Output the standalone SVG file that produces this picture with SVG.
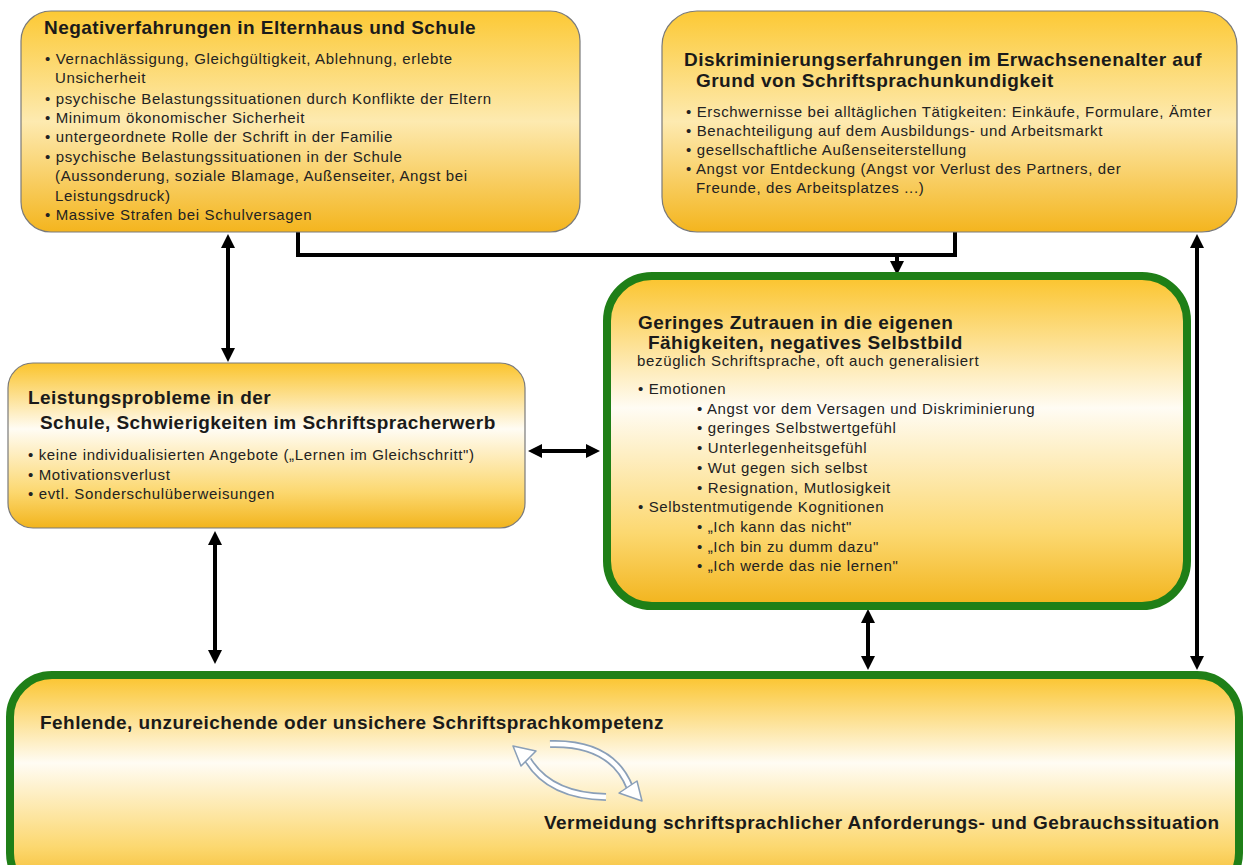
<svg xmlns="http://www.w3.org/2000/svg" width="1245" height="865" viewBox="0 0 1245 865">
  <defs>
    <style>
      .t { font-family: "Liberation Sans", Arial, sans-serif; font-weight: bold; font-size: 19px; fill: #1a1a1a; letter-spacing: 0.45px; }
      .b { font-family: "Liberation Sans", Arial, sans-serif; font-size: 15px; fill: #222; letter-spacing: 0.65px; }
      .box { stroke: #7a7a7a; stroke-width: 1.2; }
      .gbox { stroke: #1f7f17; stroke-width: 8; }
      .conn { stroke: #000; stroke-width: 4; fill: none; }
      .cyc-o { stroke: #8a9fb8; stroke-width: 8; fill: none; stroke-linecap: butt; }
      .cyc-i { stroke: #ffffff; stroke-width: 4.5; fill: none; stroke-linecap: butt; }
      .cyc-h { fill: #ffffff; stroke: #8a9fb8; stroke-width: 1.5; stroke-linejoin: round; }
    </style>
    <linearGradient id="goldSoft" x1="0" y1="0" x2="0" y2="1">
      <stop offset="0" stop-color="#fbc42c"/>
      <stop offset="0.4" stop-color="#fffcf4"/>
      <stop offset="0.78" stop-color="#fcd870"/>
      <stop offset="1" stop-color="#f2b41c"/>
    </linearGradient>
    <linearGradient id="goldDeep" x1="0" y1="0" x2="0" y2="1">
      <stop offset="0" stop-color="#fcc935"/>
      <stop offset="0.5" stop-color="#fdeab0"/>
      <stop offset="1" stop-color="#f4b51e"/>
    </linearGradient>
    <marker id="head" viewBox="0 0 14 14" refX="2" refY="7" markerWidth="14" markerHeight="14" markerUnits="userSpaceOnUse" orient="auto-start-reverse">
      <path d="M0,0 L14,7 L0,14 z" fill="#000"/>
    </marker>
  </defs>

  <rect width="1245" height="865" fill="#ffffff"/>

  <!-- connectors -->
  <g id="connectors">
    <line class="conn" x1="228" y1="246" x2="228" y2="350" marker-start="url(#head)" marker-end="url(#head)"/>
    <line class="conn" x1="215" y1="543" x2="215" y2="652" marker-start="url(#head)" marker-end="url(#head)"/>
    <line class="conn" x1="868" y1="621" x2="868" y2="658" marker-start="url(#head)" marker-end="url(#head)"/>
    <line class="conn" x1="1197" y1="246" x2="1197" y2="658" marker-start="url(#head)" marker-end="url(#head)"/>
    <line class="conn" x1="540" y1="451" x2="588" y2="451" marker-start="url(#head)" marker-end="url(#head)"/>
    <polyline class="conn" points="298,232 298,255 955,255 955,232" stroke-linejoin="miter"/>
    <line class="conn" x1="897" y1="255" x2="897" y2="263" marker-end="url(#head)"/>
  </g>

  <!-- early negative experiences -->
  <g id="node-elternhaus">
    <rect class="box" x="21" y="11" width="559" height="221" rx="30" fill="url(#goldDeep)"/>
    <text class="t" x="44" y="34">Negativerfahrungen in Elternhaus und Schule</text>
    <text class="b" x="45" y="64">• Vernachlässigung, Gleichgültigkeit, Ablehnung, erlebte</text>
    <text class="b" x="55" y="83">Unsicherheit</text>
    <text class="b" x="45" y="104">• psychische Belastungssituationen durch Konflikte der Eltern</text>
    <text class="b" x="45" y="123">• Minimum ökonomischer Sicherheit</text>
    <text class="b" x="45" y="142">• untergeordnete Rolle der Schrift in der Familie</text>
    <text class="b" x="45" y="162">• psychische Belastungssituationen in der Schule</text>
    <text class="b" x="55" y="181">(Aussonderung, soziale Blamage, Außenseiter, Angst bei</text>
    <text class="b" x="55" y="201">Leistungsdruck)</text>
    <text class="b" x="45" y="220">• Massive Strafen bei Schulversagen</text>
  </g>

  <!-- adult discrimination -->
  <g id="node-diskriminierung">
    <rect class="box" x="662" y="11" width="575" height="221" rx="35" fill="url(#goldDeep)"/>
    <text class="t" x="684" y="66">Diskriminierungserfahrungen im Erwachsenenalter auf</text>
    <text class="t" x="696" y="87">Grund von Schriftsprachunkundigkeit</text>
    <text class="b" x="686" y="117">• Erschwernisse bei alltäglichen Tätigkeiten:  Einkäufe, Formulare, Ämter</text>
    <text class="b" x="686" y="136">• Benachteiligung auf dem Ausbildungs- und Arbeitsmarkt</text>
    <text class="b" x="686" y="155">• gesellschaftliche Außenseiterstellung</text>
    <text class="b" x="686" y="174">• Angst vor Entdeckung (Angst vor Verlust des Partners, der</text>
    <text class="b" x="696" y="193">Freunde, des Arbeitsplatzes ...)</text>
  </g>

  <!-- school performance -->
  <g id="node-leistung">
    <rect class="box" x="8" y="363" width="517" height="165" rx="25" fill="url(#goldSoft)"/>
    <text class="t" x="28" y="404">Leistungsprobleme in der</text>
    <text class="t" x="40" y="429">Schule, Schwierigkeiten im Schriftspracherwerb</text>
    <text class="b" x="28" y="460">• keine individualisierten Angebote („Lernen  im Gleichschritt")</text>
    <text class="b" x="28" y="480">• Motivationsverlust</text>
    <text class="b" x="28" y="499">• evtl. Sonderschulüberweisungen</text>
  </g>

  <!-- self-image -->
  <g id="node-selbstbild">
    <rect class="gbox" x="607" y="276" width="580" height="330" rx="45" fill="url(#goldSoft)"/>
    <text class="t" x="638" y="329">Geringes Zutrauen in die eigenen</text>
    <text class="t" x="648" y="349">Fähigkeiten, negatives Selbstbild</text>
    <text class="b" x="637" y="366">bezüglich Schriftsprache, oft auch generalisiert</text>
    <text class="b" x="638" y="394">• Emotionen</text>
    <text class="b" x="697" y="414">• Angst vor dem Versagen und Diskriminierung</text>
    <text class="b" x="697" y="433">• geringes Selbstwertgefühl</text>
    <text class="b" x="697" y="453">• Unterlegenheitsgefühl</text>
    <text class="b" x="697" y="473">• Wut gegen sich selbst</text>
    <text class="b" x="697" y="493">• Resignation, Mutlosigkeit</text>
    <text class="b" x="638" y="512">• Selbstentmutigende Kognitionen</text>
    <text class="b" x="697" y="532">• „Ich kann  das nicht"</text>
    <text class="b" x="697" y="552">• „Ich bin zu dumm dazu"</text>
    <text class="b" x="697" y="571">• „Ich werde das nie lernen"</text>
  </g>

  <!-- literacy competence cycle -->
  <g id="node-kompetenz">
    <rect class="gbox" x="10" y="675" width="1229" height="220" rx="42" fill="url(#goldSoft)"/>
    <text class="t" x="40" y="729">Fehlende, unzureichende oder unsichere Schriftsprachkompetenz</text>
    <text class="t" x="544" y="829">Vermeidung schriftsprachlicher Anforderungs- und Gebrauchssituation</text>
    <g id="cycle">
      <path class="cyc-o" d="M606,797 Q550,796 528,760"/>
      <path class="cyc-i" d="M606,797 Q550,796 528,760"/>
      <polygon class="cyc-h" points="513,746 536,751 521,766"/>
      <path class="cyc-o" d="M550,744 Q612,742 630,788"/>
      <path class="cyc-i" d="M550,744 Q612,742 630,788"/>
      <polygon class="cyc-h" points="642,801 619,793 637,781"/>
    </g>
  </g>
</svg>
